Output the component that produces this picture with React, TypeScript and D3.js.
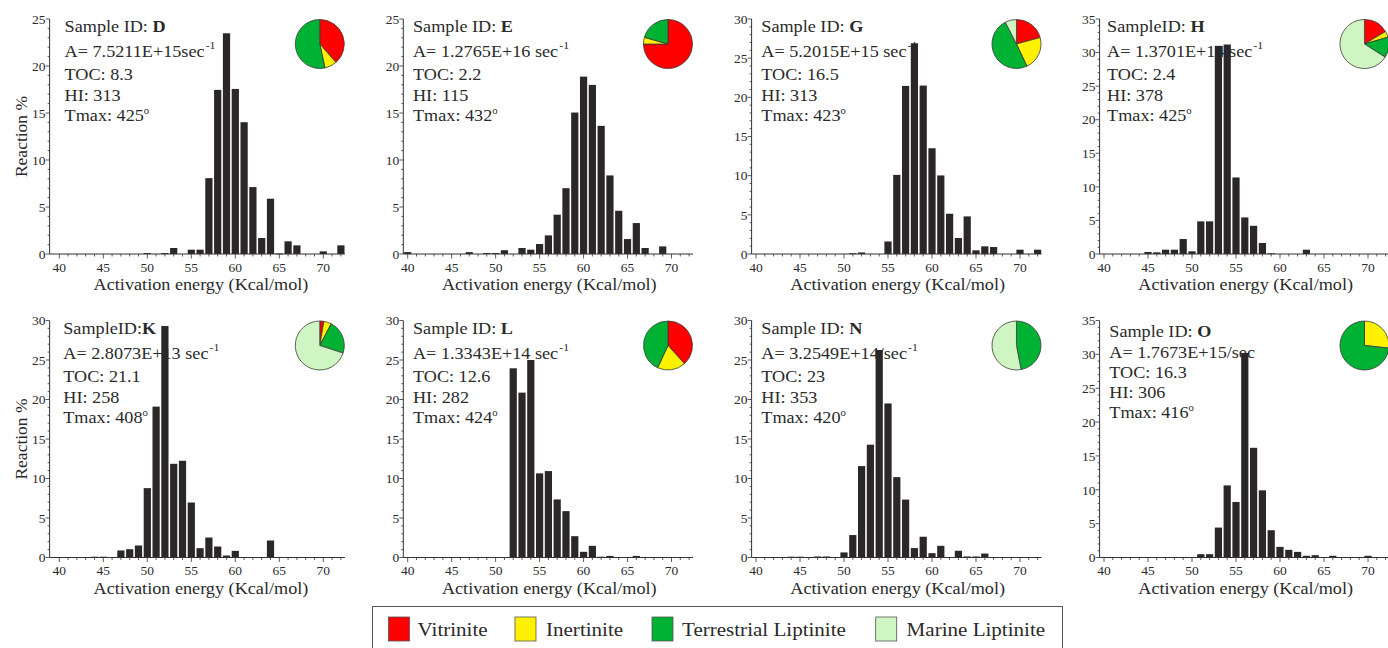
import React from 'react';
import * as d3 from 'd3';

// ---------------- DATA ----------------
const energyBins = [40, 41, 42, 43, 44, 45, 46, 47, 48, 49, 50, 51, 52, 53, 54, 55, 56, 57, 58, 59, 60, 61, 62, 63, 64, 65, 66, 67, 68, 69, 70, 71, 72];
const xTickLabels = [40, 45, 50, 55, 60, 65, 70];

const sampleIds = ['D', 'E', 'G', 'H', 'K', 'L', 'N', 'O'];
const sampleLabels = ['Sample ID: ', 'Sample ID: ', 'Sample ID: ', 'SampleID: ', 'SampleID:', 'Sample ID: ', 'Sample ID: ', 'Sample ID: '];
const aFactors = ['A= 7.5211E+15sec', 'A= 1.2765E+16 sec', 'A= 5.2015E+15 sec', 'A= 1.3701E+14 sec', 'A= 2.8073E+13 sec', 'A= 1.3343E+14 sec', 'A= 3.2549E+14/sec', 'A= 1.7673E+15/sec'];
const aSuperscripts = ['-1', '-1', '-1', '-1', '-1', '-1', '-1', ''];
const tocValues = ['8.3', '2.2', '16.5', '2.4', '21.1', '12.6', '23', '16.3'];
const hiValues = ['313', '115', '313', '378', '258', '282', '353', '306'];
const tmaxValues = ['425', '432', '423', '425', '408', '424', '420', '416'];
const yMaxValues = [25, 25, 30, 35, 30, 30, 30, 35];

// Reaction % per activation-energy bin (40..72 kcal/mol)
const reactionD = [0, 0, 0, 0, 0, 0, 0, 0, 0, 0, 0.1, 0, 0.1, 0.64, 0, 0.46, 0.46, 8.07, 17.46, 23.48, 17.56, 14.02, 7.12, 1.7, 5.88, 0.05, 1.35, 0.92, 0, 0, 0.28, 0, 0.92];
const reactionE = [0.2, 0, 0, 0, 0, 0, 0, 0.2, 0, 0.1, 0.1, 0.4, 0, 0.64, 0.46, 1.06, 1.98, 4.18, 7.0, 15.05, 18.87, 17.99, 13.63, 8.36, 4.6, 1.59, 3.29, 0.64, 0, 0.81, 0, 0, 0];
const reactionG = [0, 0, 0, 0, 0, 0, 0, 0, 0, 0, 0, 0.1, 0.2, 0, 0, 1.6, 10.1, 21.46, 26.9, 21.5, 13.5, 10.03, 5.14, 2.04, 4.8, 0.47, 0.98, 0.89, 0, 0, 0.55, 0, 0.55];
const reactionH = [0, 0, 0, 0, 0, 0.3, 0.25, 0.64, 0.64, 2.23, 0.4, 4.86, 4.86, 31.0, 31.2, 11.4, 5.45, 4.2, 1.64, 0.1, 0, 0, 0, 0.64, 0, 0, 0, 0, 0, 0, 0, 0, 0];
const reactionK = [0, 0, 0, 0, 0.1, 0.1, 0, 0.89, 1.05, 1.52, 8.78, 19.1, 29.3, 11.86, 12.24, 6.96, 1.18, 2.53, 1.39, 0.25, 0.84, 0, 0, 0, 2.15, 0, 0, 0, 0, 0, 0, 0, 0];
const reactionL = [0, 0, 0, 0, 0, 0, 0, 0, 0, 0, 0, 0, 23.95, 20.87, 25.0, 10.65, 10.94, 7.35, 5.87, 2.7, 0.72, 1.48, 0.1, 0.2, 0, 0, 0.2, 0, 0, 0, 0, 0, 0];
const reactionN = [0, 0, 0, 0, 0.1, 0.1, 0, 0.13, 0.13, 0, 0.64, 2.84, 11.57, 14.28, 26.27, 19.5, 10.17, 7.33, 1.19, 2.63, 0.55, 1.48, 0, 0.85, 0.13, 0.13, 0.5, 0, 0, 0, 0, 0, 0];
const reactionO = [0, 0, 0, 0, 0, 0, 0, 0, 0, 0, 0, 0.49, 0.49, 4.42, 10.65, 8.2, 30.2, 16.2, 9.92, 4.03, 1.57, 1.13, 0.83, 0.25, 0.34, 0, 0.25, 0, 0, 0, 0.25, 0, 0];
const reactions = [reactionD, reactionE, reactionG, reactionH, reactionK, reactionL, reactionN, reactionO];

// Maceral composition: [Vitrinite, Inertinite, Terrestrial Liptinite, Marine Liptinite]
const maceralNames = ['Vitrinite', 'Inertinite', 'Terrestrial Liptinite', 'Marine Liptinite'];
const maceralColors = ['#ff0000', '#fff200', '#00b233', '#cff5c3'];
const compositionD = [38.6, 8, 53.4, 0];
const compositionE = [75, 4.4, 20.6, 0];
const compositionG = [20.8, 22.2, 49.5, 7.5];
const compositionH = [16.5, 4, 13.5, 66];
const compositionK = [2.7, 5, 22.3, 70];
const compositionL = [38.3, 18.6, 43.1, 0];
const compositionN = [0, 0, 47, 53];
const compositionO = [0, 26.7, 73.3, 0];
const compositions = [compositionD, compositionE, compositionG, compositionH, compositionK, compositionL, compositionN, compositionO];

// ---------------- LAYOUT ----------------
const W = 1388;
const H = 648;
const colX40 = [59.3, 407.7, 756, 1104];
const colX70 = [323.3, 671.5, 1020, 1368];
const rows = [
  { top: 19, bottom: 254 },
  { top: 320.5, bottom: 557.5 },
];
const FONT = '"Liberation Serif", "Times New Roman", serif';
const INK = '#2a2a2a';
const BAR = '#2b2728';
const SX = 1.07;

function SText(props: any) {
  const { x, y, size, sx = SX, anchor = 'start', children, weight, fill = INK } = props;
  return (
    <text
      transform={`translate(${x},${y}) scale(${sx},1)`}
      fontSize={size}
      textAnchor={anchor}
      fontWeight={weight}
      fill={fill}
      fontFamily={FONT}
    >
      {children}
    </text>
  );
}

function Panel({ i }: { i: number }) {
  const c = i % 4;
  const r = Math.floor(i / 4);
  const { top, bottom } = rows[r];
  const yMax = yMaxValues[i];
  const x = d3.scaleLinear().domain([40, 70]).range([colX40[c], colX70[c]]);
  const y = d3.scaleLinear().domain([0, yMax]).range([bottom, top]);
  const xMin = c === 0 ? 38.9 : 39.5;
  const xMax = 72.45;
  const axisX = x(xMin);
  const data = reactions[i];
  const half = 0.41;

  const yMinor = d3.range(0, yMax + 1, 1);
  const yMajor = d3.range(0, yMax + 1, 5);
  const xMinor = d3.range(40, 73, 1);

  const textX = x(i === 3 ? 40.35 : i === 4 ? 40.45 : 40.6);
  const lineOff = i === 7 ? [16, 37.5, 57, 77, 97] : [13, 38, 61, 82, 102];

  const pie = d3.pie<number>().sort(null).value((d) => d)(compositions[i]);
  const arc = d3.arc<d3.PieArcDatum<number>>().innerRadius(0).outerRadius(24.5);
  const pieCx = x(69.6);
  const pieCy = top + 25;

  return (
    <g>
      {/* annotation text (behind bars) */}
      <SText x={textX} y={top + lineOff[0]} size={17}>
        {sampleLabels[i]}
        <tspan fontWeight="bold">{sampleIds[i]}</tspan>
      </SText>
      <SText x={textX} y={top + lineOff[1]} size={17}>
        {aFactors[i]}
        {aSuperscripts[i] ? (
          <tspan dy={-8} dx={1} fontSize={11}>
            {aSuperscripts[i]}
          </tspan>
        ) : null}
      </SText>
      <SText x={textX} y={top + lineOff[2]} size={17}>{`TOC: ${tocValues[i]}`}</SText>
      <SText x={textX} y={top + lineOff[3]} size={17}>{`HI: ${hiValues[i]}`}</SText>
      <SText x={textX} y={top + lineOff[4]} size={17}>
        {`Tmax: ${tmaxValues[i]}`}
        <tspan dy={-7} fontSize={10}>o</tspan>
      </SText>

      {/* bars */}
      {energyBins.map((e, k) =>
        data[k] > 0 ? (
          <rect
            key={e}
            x={x(e - half)}
            width={x(e + half) - x(e - half)}
            y={y(data[k])}
            height={Math.max(0.8, y(0) - y(data[k]))}
            fill={BAR}
          />
        ) : null
      )}

      {/* y axis */}
      <line x1={axisX} x2={axisX} y1={y(yMax)} y2={y(0)} stroke="#333" strokeWidth={1} />
      {yMinor.map((t) => (
        <line key={'ym' + t} x1={axisX - (t % 5 === 0 ? 4 : 2)} x2={axisX} y1={y(t)} y2={y(t)} stroke="#333" strokeWidth={0.8} />
      ))}
      {yMajor.map((t) => (
        <text key={'yl' + t} x={axisX - 4} y={y(t)} dy="0.35em" fontSize={13.5} textAnchor="end" fill={INK} fontFamily={FONT}>
          {t}
        </text>
      ))}

      {/* x axis */}
      <line x1={axisX} x2={x(xMax)} y1={y(0)} y2={y(0)} stroke="#333" strokeWidth={1} />
      {xMinor.map((t) => (
        <line key={'xm' + t} x1={x(t)} x2={x(t)} y1={y(0)} y2={y(0) + (t % 5 === 0 ? 4.5 : 2.5)} stroke="#333" strokeWidth={0.8} />
      ))}
      {xTickLabels.map((t) => (
        <text key={'xl' + t} x={x(t)} y={y(0) + 17.5} fontSize={13.5} textAnchor="middle" fill={INK} fontFamily={FONT}>
          {t}
        </text>
      ))}
      <SText x={x(56.1)} y={y(0) + 36} size={17} anchor="middle">
        Activation energy (Kcal/mol)
      </SText>

      {c === 0 ? (
        <text
          transform={`translate(27,${(top + bottom) / 2}) rotate(-90)`}
          fontSize={17.5}
          textAnchor="middle"
          fill={INK}
          fontFamily={FONT}
        >
          Reaction %
        </text>
      ) : null}

      {/* pie */}
      <g transform={`translate(${pieCx},${pieCy})`}>
        {pie.map((s, k) =>
          s.value > 0 ? (
            <path key={k} d={arc(s) || ''} fill={maceralColors[k]} stroke="#3a3a3a" strokeWidth={0.8} />
          ) : null
        )}
      </g>
    </g>
  );
}

const legendSwatchX = [388.5, 515, 652, 875.7];
const legendTextX = [417.6, 546, 682, 906.6];

function Legend() {
  return (
    <g>
      <rect x={372.5} y={606.5} width={690} height={60} fill="#fff" stroke="#555" strokeWidth={1} />
      {maceralNames.map((name, k) => (
        <g key={name}>
          <rect x={legendSwatchX[k]} y={617} width={21} height={24} fill={maceralColors[k]} stroke="#555" strokeWidth={0.8} />
          <SText x={legendTextX[k]} y={636} size={19.5} sx={1.08}>
            {name}
          </SText>
        </g>
      ))}
    </g>
  );
}

export default function App() {
  return (
    <svg
      width={W}
      height={H}
      viewBox={`0 0 ${W} ${H}`}
      style={{ position: 'absolute', left: 0, top: 0, background: '#fff' }}
    >
      <rect x={0} y={0} width={W} height={H} fill="#fff" />
      {sampleIds.map((_, i) => (
        <Panel key={i} i={i} />
      ))}
      <Legend />
    </svg>
  );
}
